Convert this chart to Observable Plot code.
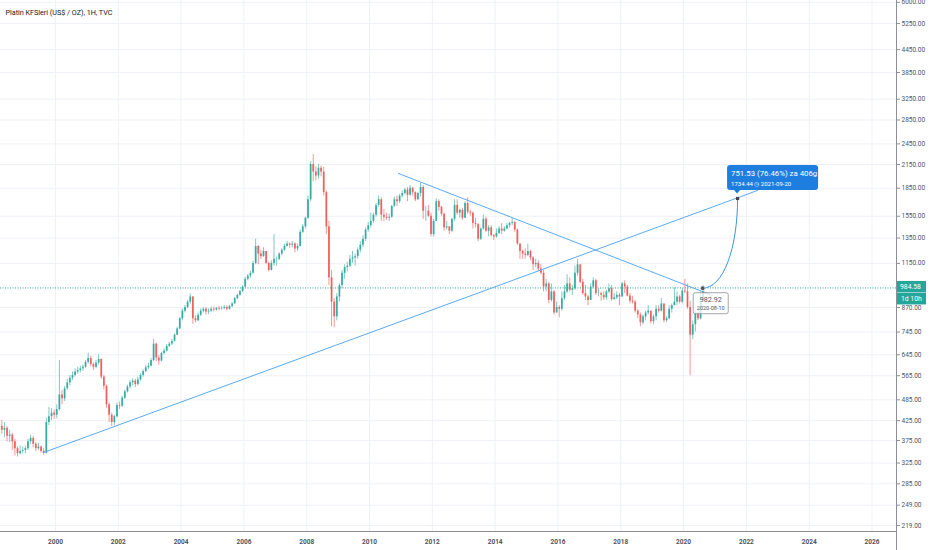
<!DOCTYPE html>
<html><head><meta charset="utf-8">
<script src="https://cdn.jsdelivr.net/npm/d3@7"></script>
<script src="https://cdn.jsdelivr.net/npm/@observablehq/plot@0.6"></script>
<style>html,body{margin:0;padding:0;background:#fff;overflow:hidden}#chart svg{display:block}</style>
</head><body><div id="chart"></div>
<script>
// ---- data (monthly candles, Apr 1998 .. Aug 2020) ----
const title = "Platin KFSleri (US$ / OZ), 1H, TVC";
const startYear = 1998, startMonth = 4;
const firstOpen = 410;
const closes = [
 400,405,385,388,372,356,345,350,352,
 356,372,380,366,356,360,350,346,420,436,446,440,
 456,500,488,520,540,556,566,578,584,590,596,615,
 630,606,596,612,626,560,528,470,440,420,436,468,
 466,490,510,526,540,546,534,550,566,580,594,600,
 622,690,632,620,650,660,680,690,702,730,760,810,
 850,870,900,930,810,800,828,850,860,846,850,860,
 856,866,862,864,870,860,876,890,920,940,962,990,
 1040,1062,1080,1150,1280,1220,1200,1240,1150,1100,1150,1180,
 1180,1220,1250,1280,1300,1290,1300,1260,1280,1400,1450,1530,
 1720,2150,2050,2000,2100,2050,1800,1450,1050,900,820,930,
 1000,1080,1120,1130,1180,1190,1200,1250,1290,1340,1420,1460,
 1500,1560,1660,1720,1560,1540,1530,1540,1650,1720,1700,1760,
 1790,1830,1770,1850,1800,1720,1790,1860,1600,1600,1550,1380,
 1500,1700,1640,1570,1440,1450,1410,1520,1660,1580,1610,1530,
 1680,1590,1580,1480,1470,1340,1430,1520,1410,1440,1370,1360,
 1390,1430,1410,1430,1460,1480,1490,1420,1300,1240,1220,1210,
 1240,1190,1140,1150,1110,1080,990,1010,910,960,840,870,
 860,920,960,1010,970,980,1080,1140,1020,950,930,910,
 990,1030,950,950,940,925,960,980,915,925,940,930,
 1010,990,935,905,900,850,830,790,820,840,850,795,
 820,860,850,890,800,810,860,880,900,930,900,965,
 960,870,730,780,840,810,920,983
];
const highs = [
 425,420,410,400,392,378,360,362,360,
 362,378,388,384,370,368,362,356,432,462,458,455,
 470,622,515,528,552,566,578,590,596,600,605,622,
 652,640,612,622,645,628,566,532,476,446,440,476,
 478,496,516,532,548,554,552,560,572,586,602,612,
 630,712,694,642,656,670,688,698,712,736,768,816,
 862,882,910,948,932,825,840,862,868,870,862,872,
 872,872,876,876,882,880,882,898,928,948,970,998,
 1052,1072,1094,1166,1340,1290,1250,1270,1240,1160,1170,1380,
 1196,1230,1262,1300,1320,1310,1320,1310,1300,1420,1470,1540,
 1760,2190,2290,2120,2150,2130,2110,1820,1500,1100,920,950,
 1010,1100,1140,1160,1210,1240,1220,1270,1320,1370,1440,1490,
 1580,1580,1680,1760,1740,1620,1580,1570,1660,1750,1760,1780,
 1820,1850,1860,1880,1860,1810,1800,1910,1880,1650,1660,1580,
 1520,1730,1720,1650,1580,1500,1450,1530,1720,1720,1620,1630,
 1700,1740,1610,1590,1530,1480,1440,1560,1540,1460,1460,1380,
 1430,1450,1480,1450,1480,1490,1530,1500,1430,1300,1250,1260,
 1300,1250,1200,1180,1170,1140,1100,1040,1020,1010,970,900,
 880,960,1000,1070,1050,1000,1130,1180,1100,1040,1000,940,
 1010,1050,1040,980,960,960,970,1010,1000,950,960,950,
 1020,1030,1000,950,935,910,860,840,830,850,880,850,
 830,880,880,920,890,820,880,890,985,960,940,980,
 1040,1010,905,800,850,860,960,1000
];
const lows = [
 390,382,372,370,352,340,338,342,344,
 345,352,366,358,350,352,346,342,344,412,425,428,
 430,452,470,480,515,530,548,560,570,575,580,592,
 608,598,584,590,604,552,516,460,420,410,412,432,
 456,462,486,506,520,530,524,530,546,560,575,588,
 598,618,618,604,616,644,656,676,684,700,728,756,
 800,840,864,888,782,790,796,822,840,830,832,842,
 846,850,852,856,858,852,856,868,888,914,934,958,
 985,1030,1048,1074,1140,1140,1180,1196,1140,1090,1096,1130,
 1130,1170,1206,1240,1276,1264,1268,1230,1240,1276,1390,1430,
 1520,1700,1930,1940,1960,1990,1760,1380,1000,770,765,800,
 900,980,1040,1090,1120,1150,1130,1180,1230,1270,1320,1400,
 1440,1480,1540,1640,1500,1500,1510,1500,1530,1640,1650,1680,
 1740,1770,1700,1760,1760,1700,1710,1750,1520,1500,1540,1360,
 1360,1500,1600,1550,1410,1420,1380,1400,1500,1560,1530,1510,
 1530,1570,1550,1430,1440,1320,1330,1420,1400,1360,1360,1330,
 1350,1380,1380,1400,1420,1440,1460,1400,1290,1180,1180,1180,
 1200,1170,1100,1120,1090,1070,960,960,890,900,830,840,
 815,850,910,950,960,940,970,1060,1010,940,910,880,
 910,980,940,930,905,910,910,950,905,910,915,880,
 930,950,930,890,890,840,810,770,780,800,830,785,
 780,800,840,845,790,790,805,840,880,880,890,890,
 950,860,565,710,745,800,805,900
];
const yTicks = [6000,5250,4450,3850,3250,2850,2450,2150,1850,1550,1350,1150,870,745,645,565,485,425,375,325,285,249,219];
const xTicks = [2000,2002,2004,2006,2008,2010,2012,2014,2016,2018,2020,2022,2024,2026];
const lastPrice = 984.58;
const countdown = "1d 10h";
const ascTrend = [{date: 1999.62, value: 347.5}, {date: 2022.35, value: 1824}];
const descTrend = [{date: 2010.92, value: 2032}, {date: 2020.92, value: 939}];
const projection = [{date: 2020.61, value: 982.92}, {date: 2021.72, value: 1734.44}];
const startLabel = ["982.92", "2020-08-10"];
const projLabel = ["751.53 (76.46%) za 406g", "1734.44 \u25F7 2021-09-20"];

// ---- build table ----
const UP = "#26a69a", DOWN = "#ef5350";
const candles = closes.map((c, i) => {
  const open = i === 0 ? firstOpen : closes[i - 1];
  return {date: startYear + (startMonth - 1 + i + 0.5) / 12, open, close: c, high: highs[i], low: lows[i],
          color: c >= open ? UP : DOWN};
});

function cornerCurve(context) {
  let pts;
  return {
    areaStart() {}, areaEnd() {},
    lineStart() { pts = []; },
    point(x, y) { pts.push([+x, +y]); },
    lineEnd() {
      if (pts.length < 2) return;
      const a = pts[0], b = pts[pts.length - 1];
      context.moveTo(a[0], a[1]);
      context.bezierCurveTo(a[0] + (b[0] - a[0]) * 0.6, a[1], b[0], a[1] + (b[1] - a[1]) * 0.45, b[0], b[1]);
    }
  };
}

const FONT = "Roboto, 'Open Sans', sans-serif";
const GRID = "#eef1f7";
const chart = Plot.plot({
  width: 932, height: 550,
  marginLeft: 0, marginRight: 36, marginTop: 0, marginBottom: 19,
  style: {fontFamily: FONT, fontSize: "6.5px", color: "#50535e", background: "#fff"},
  x: {type: "linear", domain: [1998.25, 2026.78], label: null},
  y: {type: "log", domain: [210.8, 6071], label: null},
  marks: [
    Plot.gridY(yTicks, {stroke: GRID, strokeOpacity: 1}),
    Plot.gridX(xTicks, {stroke: GRID, strokeOpacity: 1}),
    Plot.ruleX(candles, {x: "date", y1: "low", y2: "high", stroke: "color", strokeWidth: 0.8, strokeOpacity: 0.75}),
    Plot.ruleX(candles, {x: "date", y1: "open", y2: "close", stroke: "color", strokeWidth: 1.8, strokeOpacity: 0.85}),
    Plot.ruleY([lastPrice], {stroke: "#26a69a", strokeWidth: 1, strokeDasharray: "1,1.5"}),
    Plot.line(ascTrend, {x: "date", y: "value", stroke: "#5aaaf0", strokeWidth: 1}),
    Plot.line(descTrend, {x: "date", y: "value", stroke: "#5aaaf0", strokeWidth: 1}),
    Plot.line(projection, {x: "date", y: "value", stroke: "#3d94e8", strokeWidth: 1, curve: cornerCurve}),
    Plot.dot([projection[0]], {x: "date", y: "value", r: 2.4, fill: "#50535e", stroke: "#fff", strokeWidth: 0.8}),
    Plot.dot([projection[1]], {x: "date", y: "value", r: 1.8, symbol: "square", fill: "#434651"}),
    Plot.axisY(yTicks, {anchor: "right", label: null, tickFormat: d => d.toFixed(2), tickSize: 3, tickPadding: 2, stroke: "#8c8f98"}),
    Plot.axisX(xTicks, {anchor: "bottom", label: null, tickFormat: d => String(d), tickSize: 0, tickPadding: 8, fontWeight: "bold"}),
    Plot.text([title], {frameAnchor: "top-left", dx: 5, dy: 12, fontSize: 7.2, fill: "#131722", lineAnchor: "middle", textAnchor: "start"})
  ]
});
document.getElementById("chart").appendChild(chart);

// ---- overlays positioned through the plot's scales ----
const sx = chart.scale("x"), sy = chart.scale("y");
const svg = d3.select(chart);
const xr = sx.range, yr = sy.range;
const xRight = Math.max(...xr), yBottom = Math.max(...yr);
const g = svg.append("g").attr("font-family", FONT).attr("text-anchor", "start");
g.append("line").attr("x1", 0).attr("x2", xRight + 0.5).attr("y1", yBottom + 0.5).attr("y2", yBottom + 0.5).attr("stroke", "#8c8f98");
g.append("line").attr("x1", xRight + 0.5).attr("x2", xRight + 0.5).attr("y1", 0).attr("y2", 550).attr("stroke", "#8c8f98");

// last price + countdown labels
const yp = sy.apply(lastPrice);
g.append("rect").attr("x", xRight + 1).attr("y", yp - 6.5).attr("width", 29).attr("height", 11.5).attr("fill", "#26a69a");
g.append("text").attr("x", xRight + 4).attr("y", yp - 0.5).attr("text-anchor", "start").attr("dominant-baseline", "central").attr("font-size", 6.8).attr("fill", "#fff").text(lastPrice.toFixed(2));
g.append("rect").attr("x", xRight + 1).attr("y", yp + 5.5).attr("width", 29).attr("height", 11.5).attr("fill", "#26a69a");
g.append("text").attr("x", xRight + 5).attr("y", yp + 11.3).attr("text-anchor", "start").attr("dominant-baseline", "central").attr("font-size", 6.8).attr("fill", "#fff").text(countdown);

// start point tooltip
const p0 = [sx.apply(projection[0].date), sy.apply(projection[0].value)];
g.append("rect").attr("x", p0[0] - 9).attr("y", p0[1] + 5).attr("width", 35).attr("height", 21).attr("rx", 2)
  .attr("fill", "#fff").attr("fill-opacity", 0.75).attr("stroke", "#8c8f98").attr("stroke-width", 0.8);
g.append("text").attr("x", p0[0] + 8.5).attr("y", p0[1] + 11.8).attr("text-anchor", "middle").attr("dominant-baseline", "central").attr("font-size", 7.2).attr("fill", "#50535e").text(startLabel[0]);
g.append("text").attr("x", p0[0] + 8.5).attr("y", p0[1] + 20).attr("text-anchor", "middle").attr("dominant-baseline", "central").attr("font-size", 5.5).attr("fill", "#50535e").text(startLabel[1]);

// projection label
const p1 = [sx.apply(projection[1].date), sy.apply(projection[1].value)];
g.append("rect").attr("x", p1[0] - 10).attr("y", p1[1] - 33).attr("width", 91).attr("height", 25).attr("rx", 3).attr("fill", "#1e7ee0");
g.append("path").attr("d", `M${p1[0]-3.5},${p1[1]-8.5}L${p1[0]+3.5},${p1[1]-8.5}L${p1[0]},${p1[1]-4.5}Z`).attr("fill", "#1e7ee0");
g.append("text").attr("x", p1[0] - 6).attr("y", p1[1] - 24).attr("text-anchor", "start").attr("dominant-baseline", "central").attr("font-size", 7.8).attr("fill", "#fff").text(projLabel[0]);
g.append("text").attr("x", p1[0] - 6).attr("y", p1[1] - 14.5).attr("text-anchor", "start").attr("dominant-baseline", "central").attr("font-size", 6).attr("fill", "#fff").text(projLabel[1]);
</script>
</body></html>
